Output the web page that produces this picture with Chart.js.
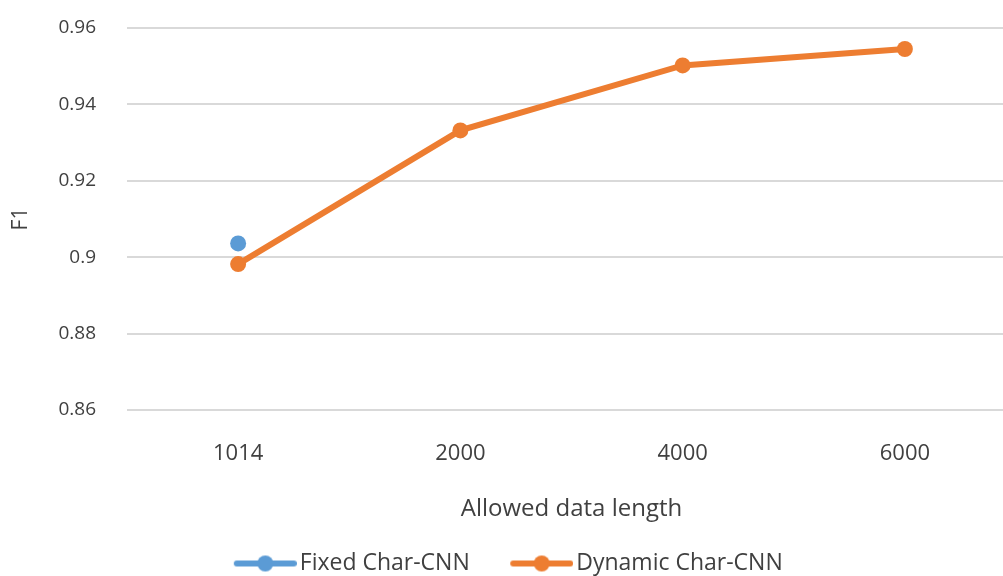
<!DOCTYPE html>
<html>
<head>
<meta charset="UTF-8">
<title>F1 vs allowed data length</title>
<script src="https://cdn.jsdelivr.net/npm/chart.js"></script>
<style>
    body { margin: 0; background: #fff; overflow: hidden; }
    #wrap { width: 1024px; height: 576px; }
</style>
</head>
<body>
<div id="wrap"><canvas id="f1Chart"></canvas></div>
<script>
// data
const categories = ['1014', '2000', '4000', '6000'];
const fixedCharCnn = [0.9036, null, null, null];
const dynamicCharCnn = [0.8982, 0.9332, 0.9502, 0.9545];
const yTicks = [0.86, 0.88, 0.9, 0.92, 0.94, 0.96];

const BLUE = '#5b9bd5';
const ORANGE = '#ed7d31';
const TEXT = '#404040';
const FONT = "'Open Sans', 'Noto Sans', sans-serif";

// legend marker: line with a dot in the middle, like Excel
// drawn at the right end of the image so the text sits close to it
function legendMarker(color) {
    const c = document.createElement('canvas');
    c.width = 72; c.height = 18;
    const g = c.getContext('2d');
    g.strokeStyle = color;
    g.lineWidth = 6;
    g.lineCap = 'round';
    g.beginPath(); g.moveTo(12, 9); g.lineTo(69, 9); g.stroke();
    g.fillStyle = color;
    g.beginPath(); g.arc(40.5, 9, 8, 0, Math.PI * 2); g.fill();
    return c;
}
const markers = [legendMarker(BLUE), legendMarker(ORANGE)];

new Chart(document.getElementById('f1Chart'), {
    type: 'line',
    data: {
        labels: categories,
        datasets: [
            {
                label: 'Fixed Char-CNN',
                data: fixedCharCnn,
                borderColor: BLUE,
                backgroundColor: BLUE,
                borderWidth: 6,
                pointRadius: 8,
                pointHoverRadius: 8,
                pointBorderWidth: 0
            },
            {
                label: 'Dynamic Char-CNN',
                data: dynamicCharCnn,
                borderColor: ORANGE,
                backgroundColor: ORANGE,
                borderWidth: 6,
                pointRadius: 8,
                pointHoverRadius: 8,
                pointBorderWidth: 0,
                tension: 0
            }
        ]
    },
    options: {
        responsive: true,
        maintainAspectRatio: false,
        animation: false,
        // negative left padding keeps the legend centred like the original
        layout: { padding: { top: 28, left: -8, right: 0, bottom: -9 } },
        plugins: {
            tooltip: { enabled: false },
            legend: {
                position: 'bottom',
                labels: {
                    usePointStyle: true,
                    pointStyleWidth: 55,
                    padding: 40,
                    color: TEXT,
                    font: { family: FONT, size: 23 },
                    generateLabels(chart) {
                        return chart.data.datasets.map((ds, i) => ({
                            text: ds.label,
                            pointStyle: markers[i],
                            fontColor: TEXT,
                            datasetIndex: i,
                            hidden: false,
                            lineWidth: 0
                        }));
                    }
                }
            }
        },
        scales: {
            x: {
                offset: true,
                afterFit(scale) { scale.height = 102; },
                grid: { display: false },
                border: { display: false },
                ticks: { color: TEXT, padding: 23, font: { family: FONT, size: 22 } },
                title: {
                    display: true,
                    text: 'Allowed data length',
                    color: TEXT,
                    padding: { top: 0, bottom: -12 },
                    font: { family: FONT, size: 24 }
                }
            },
            y: {
                min: 0.86,
                max: 0.96,
                afterBuildTicks(scale) {
                    scale.ticks = yTicks.map(v => ({ value: v }));
                },
                afterFit(scale) { scale.width = 135; },
                grid: {
                    color: '#d9d9d9',
                    lineWidth: 2,
                    drawTicks: true,
                    tickLength: 28,
                    tickColor: 'rgba(0,0,0,0)'
                },
                border: { display: false },
                ticks: {
                    color: TEXT,
                    padding: 3,
                    font: { family: FONT, size: 19 },
                    callback: v => String(+v.toFixed(2))
                },
                title: {
                    display: true,
                    text: 'F1',
                    color: TEXT,
                    padding: { top: 16, bottom: 0 },
                    font: { family: FONT, size: 21 }
                }
            }
        }
    }
});
</script>
</body>
</html>
